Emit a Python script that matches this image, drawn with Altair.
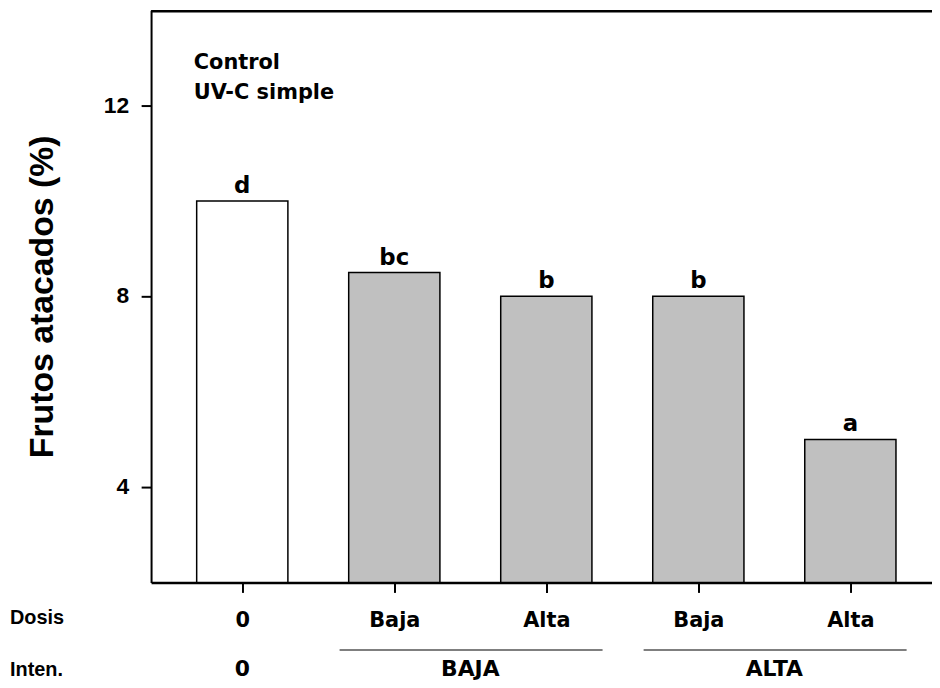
import altair as alt
import pandas as pd

# ---- data ----
dosis = ["0", "Baja", "Alta", "Baja", "Alta"]
intensidad = ["0", "BAJA", "BAJA", "ALTA", "ALTA"]
valores = [10.0, 8.5, 8.0, 8.0, 5.0]
letras = ["d", "bc", "b", "b", "a"]
tratamiento = ["Control", "UV-C", "UV-C", "UV-C", "UV-C"]
y_ticks = [4, 8, 12]
leyenda = ["Control", "UV-C simple"]
fila_labels = ["Dosis", "Inten."]

df = pd.DataFrame({
    "pos": list(range(len(valores))),
    "value": valores,
    "dosis": dosis,
    "inten": intensidad,
    "letter": letras,
    "trat": tratamiento,
})

FONT = "DejaVu Sans"
TFONT = "Liberation Sans"
W, H = 786, 576
xscale = alt.Scale(domain=[-0.6, 4.537], nice=False, zero=False)
yscale = alt.Scale(domain=[2, 14], nice=False, zero=False)

label_expr = "[" + ",".join("'%s'" % d for d in dosis) + "][datum.value]"

base = alt.Chart(df)

bars = base.transform_calculate(
    x1="datum.pos - 0.3", x2="datum.pos + 0.3"
).mark_bar(stroke="black", strokeWidth=1.5).encode(
    x=alt.X("x1:Q", scale=xscale, title=None,
            axis=alt.Axis(values=list(range(len(valores))), labelExpr=label_expr,
                          orient="bottom", labelOverlap=False, labelFlush=False)),
    x2="x2:Q",
    y=alt.Y("value:Q", scale=yscale, title="Frutos atacados (%)",
            axis=alt.Axis(values=y_ticks, labels=False)),
    y2=alt.datum(2),
    fill=alt.Fill("trat:N", scale=alt.Scale(domain=["Control", "UV-C"],
                                            range=["white", "#c0c0c0"]), legend=None),
)

letters_layer = base.mark_text(fontSize=23, fontWeight="bold", font=FONT,
                               baseline="alphabetic", dy=-8, color="black").encode(
    x=alt.X("pos:Q", scale=xscale, title=None),
    y=alt.Y("value:Q", scale=yscale, title="Frutos atacados (%)"),
    text="letter:N",
)

ytick_labels = alt.Chart(pd.DataFrame({"value": y_ticks})).mark_text(
    align="right", baseline="middle", fontSize=23, fontWeight=900,
    font=TFONT, color="black").encode(
    x=alt.value(-22),
    y=alt.Y("value:Q", scale=yscale, title="Frutos atacados (%)"),
    text="value:N",
)

top_line = alt.Chart(pd.DataFrame({"a": [0]})).mark_rule(color="black", strokeWidth=2.5).encode(
    x=alt.value(0), x2=alt.value(W), y=alt.value(1)
)

legend_layers = []
for i, t in enumerate(leyenda):
    legend_layers.append(
        alt.Chart(pd.DataFrame({"t": [t]})).mark_text(
            align="left", baseline="alphabetic", fontSize=21, fontWeight="bold",
            font=FONT, color="black").encode(
            x=alt.value(43), y=alt.value(59 + 30 * i), text="t:N")
    )

groups = base.transform_aggregate(
    center="mean(pos)", start="min(pos)", end="max(pos)", groupby=["inten"]
)

inten_text = groups.mark_text(fontSize=22, fontWeight="bold", font=FONT,
                              baseline="alphabetic", color="black").encode(
    x=alt.X("center:Q", scale=xscale, title=None),
    y=alt.value(670),
    text="inten:N",
)

group_lines = groups.transform_filter("datum.start != datum.end").transform_calculate(
    ls="datum.start - 0.36", le="datum.end + 0.37"
).mark_rule(color="black", strokeWidth=1.2).encode(
    x=alt.X("ls:Q", scale=xscale, title=None),
    x2="le:Q",
    y=alt.value(644),
)

row_layers = []
for i, t in enumerate(fila_labels):
    row_layers.append(
        alt.Chart(pd.DataFrame({"t": [t]})).mark_text(
            align="left", baseline="middle", fontSize=20, fontWeight="bold",
            font=TFONT, color="black").encode(
            x=alt.value(-142), y=alt.value(612 + 52 * i), text="t:N")
    )

chart = alt.layer(
    bars, letters_layer, ytick_labels, top_line, *legend_layers, group_lines,
    inten_text, *row_layers
).properties(
    width=W, height=H,
    padding={"left": 144, "top": 0, "right": 0, "bottom": 100},
    autosize=alt.AutoSizeParams(type="none"),
).configure_view(stroke=None).configure(font=FONT).configure_axis(
    grid=False, domainColor="black", tickColor="black", tickWidth=2, tickSize=10,
    labelFont=FONT, labelFontWeight="bold", labelColor="black",
).configure_axisX(
    labelFontSize=21, labelPadding=17, domainWidth=2.5,
).configure_axisY(
    domainWidth=2,
    titleFontSize=34, titleFontWeight="bold", titleColor="black",
    titleFont=TFONT, titlePadding=81,
)

chart.save("out.html", embed_options={"renderer": "svg", "actions": False})
